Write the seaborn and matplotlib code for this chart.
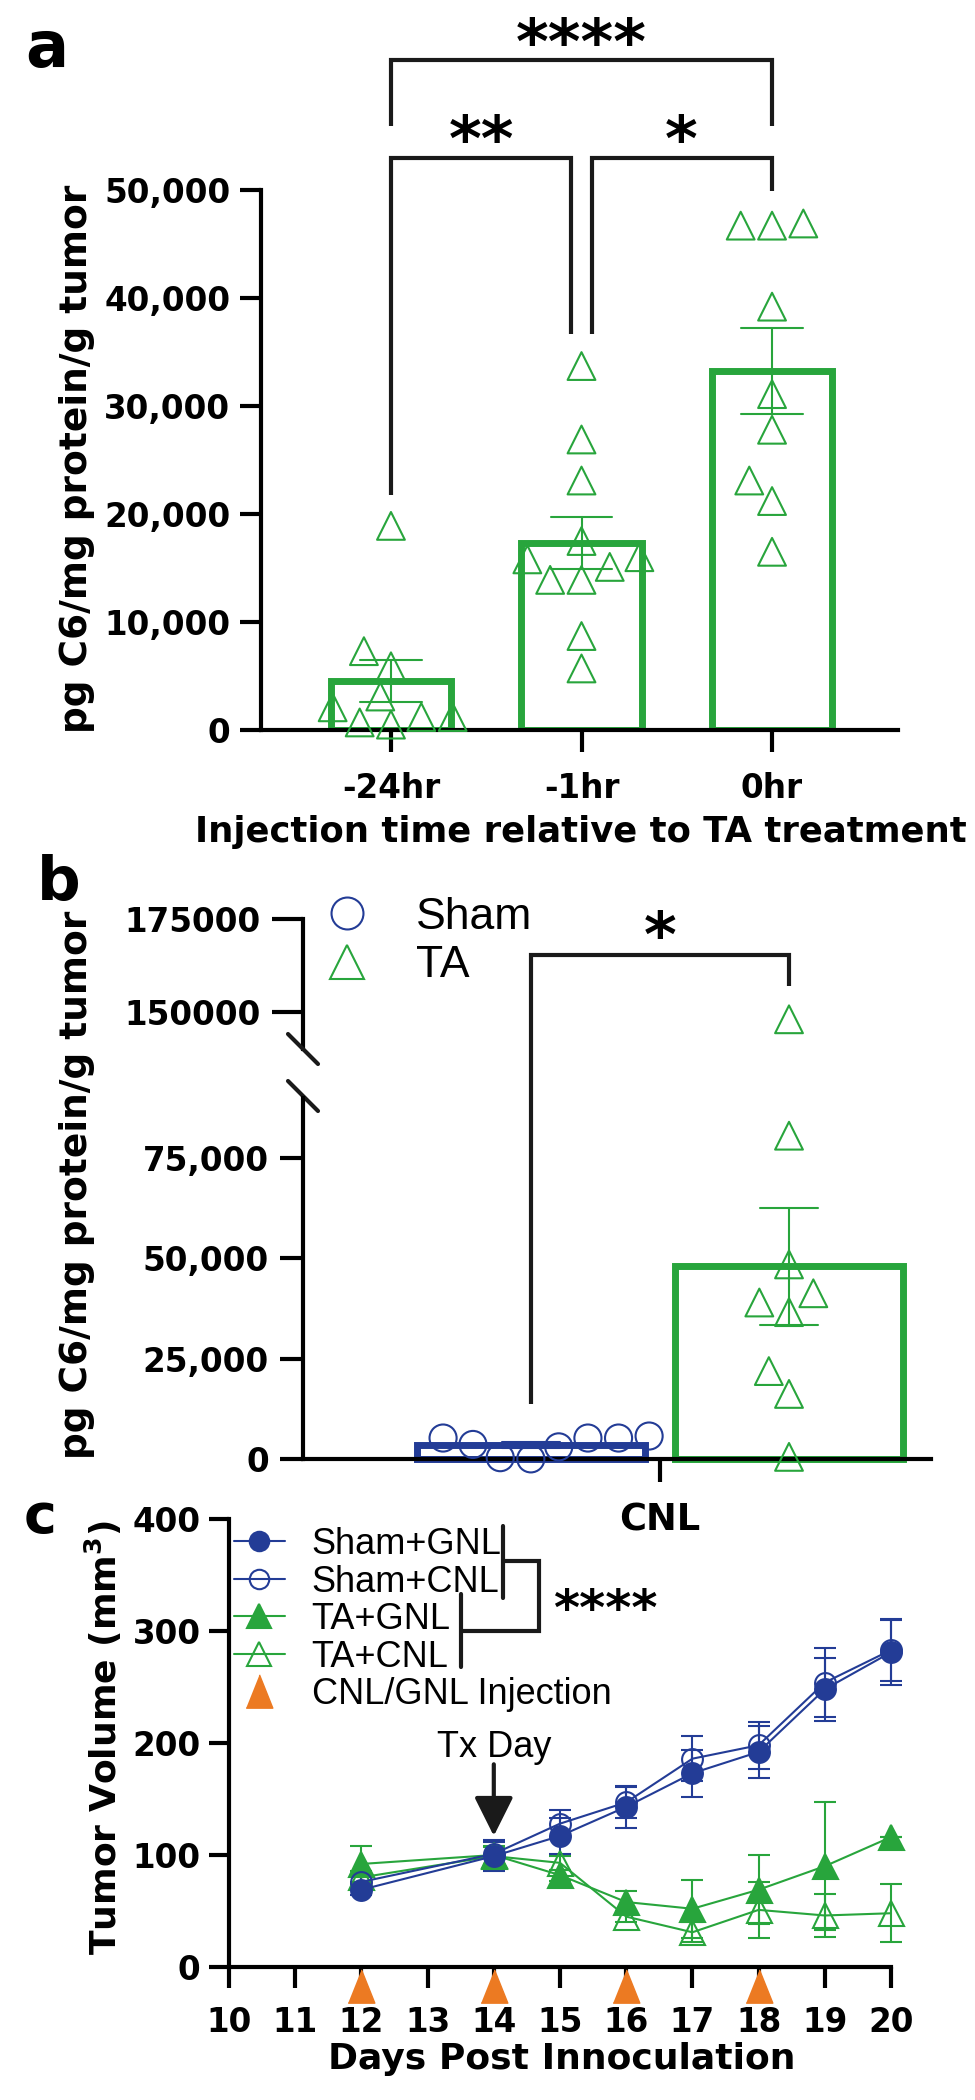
import numpy as np
import pandas as pd
import seaborn as sns
import matplotlib.pyplot as plt
from matplotlib.lines import Line2D

# ---- panel a: C6 per injection time ----
times = ['-24hr', '-1hr', '0hr']
c6_m24 = [18900, 7300, 5900, 3100, 2100, 1200, 1200, 700, 500]
c6_m1 = [33700, 26900, 23100, 17500, 16000, 15800, 15100, 13900, 13900, 8700, 5700]
c6_0 = [46700, 46700, 46900, 39200, 31100, 27800, 23100, 21200, 16500]

# ---- panel b: Sham vs TA, CNL ----
groups_b = ['Sham', 'TA']
c6_sham = [3000, 5700, 5200, 5200, 0, 5200, 300, 3600]
c6_ta = [148000, 80600, 48500, 41300, 39000, 36600, 21900, 16200, 500]

# ---- panel c: tumor volume ----
days = [12, 14, 15, 16, 17, 18, 19, 20]
sham_gnl = [69, 99, 117, 143, 173, 192, 248, 281]
sham_gnl_sem = [5, 13, 16, 19, 21, 23, 28, 29]
sham_cnl = [76, 101, 128, 147, 186, 198, 254, 283]
sham_cnl_sem = [6, 12, 12, 14, 20, 21, 31, 28]
ta_gnl = [92, 100, 82, 58, 52, 69, 90, 116]
ta_gnl_sem = [16, 8, 5, 10, 26, 31, 57, 0]
ta_cnl = [80, 99, 93, 45, 31, 51, 46, 48]
ta_cnl_sem = [6, 8, 6, 5, 9, 25, 19, 26]
injection_days = [12, 14, 16, 18]
tx_day = 14

GREEN = '#28A53C'
BLUE = '#233C96'
ORANGE = '#EC7A22'
TRI = [(-0.8, -1), (0.8, -1), (0, 1)]

sns.set_theme(style='ticks')
plt.rcParams['font.family'] = ['DejaVu Sans']
plt.rcParams['font.weight'] = 'bold'
plt.rcParams['axes.labelweight'] = 'bold'
plt.rcParams['axes.linewidth'] = 3
for key in ('text.color', 'axes.labelcolor', 'axes.edgecolor', 'xtick.color', 'ytick.color'):
    plt.rcParams[key] = 'black'
REG = {'family': 'Liberation Sans', 'weight': 'normal'}
TICK = 23.5

W, H = 975, 2100
def fx(px):
    return px / W
def fy(py):
    return 1 - py / H

fig = plt.figure(figsize=(W / 100, H / 100), dpi=100)
fig.patch.set_facecolor('white')


def hollow(ax, n0, color, lw=1.5):
    for coll in ax.collections[n0:]:
        coll.set_facecolor('none')
        coll.set_edgecolor(color)
        coll.set_linewidth(lw)


def bracket(ax, x0, x1, y, y0, y1):
    ax.plot([x0, x0, x1, x1], [y0, y, y, y1], color='k', lw=3, clip_on=False,
            solid_joinstyle='miter', solid_capstyle='butt')


# ================= panel a =================
df_a = pd.DataFrame({
    'time': np.repeat(times, [len(c6_m24), len(c6_m1), len(c6_0)]),
    'value': c6_m24 + c6_m1 + c6_0,
})
ax_a = fig.add_axes([fx(261), fy(730), 637 / W, 540 / H])
sns.barplot(data=df_a, x='time', y='value', order=times, color=GREEN, fill=False,
            width=0.63, linewidth=5, errorbar='se', capsize=0.325,
            err_kws={'color': GREEN, 'linewidth': 1.5}, ax=ax_a)
n0 = len(ax_a.collections)
sns.swarmplot(data=df_a, x='time', y='value', order=times, color=GREEN, marker='^',
              size=20, clip_on=False, zorder=4, ax=ax_a)
hollow(ax_a, n0, GREEN)

ax_a.set_xlim(-0.682, 2.661)
ax_a.set_ylim(0, 50000)
yt = [0, 10000, 20000, 30000, 40000, 50000]
ax_a.set_yticks(yt)
ax_a.set_yticklabels([f'{v:,}' for v in yt])
sns.despine(ax=ax_a)
ax_a.tick_params(axis='y', width=3, length=15, labelsize=TICK, pad=7)
ax_a.tick_params(axis='x', width=3, length=16, labelsize=TICK, pad=14)
ax_a.set_xlabel('Injection time relative to TA treatment', fontsize=25.5)
ax_a.xaxis.set_label_coords(0.502, -0.157)
ax_a.set_ylabel('')
fig.text(fx(77), fy(459), 'pg C6/mg protein/g tumor', rotation=90, ha='center',
         va='center', fontsize=27, fontweight='bold')

bracket(ax_a, 0, 2, 62040, 55880, 55880)
bracket(ax_a, 0, 0.943, 52960, 21760, 36670)
bracket(ax_a, 1.055, 2, 52960, 36670, 49900)
ax_a.text(1, 61800, '****', ha='center', va='baseline', fontsize=45, clip_on=False)
ax_a.text(0.473, 52800, '**', ha='center', va='baseline', fontsize=45, clip_on=False)
ax_a.text(1.525, 52800, '*', ha='center', va='baseline', fontsize=45, clip_on=False)
fig.text(fx(25), fy(67), 'a', fontsize=46, fontweight='bold', va='baseline')

# ================= panel b =================
df_b = pd.DataFrame({
    'treat': 'CNL',
    'group': ['Sham'] * len(c6_sham) + ['TA'] * len(c6_ta),
    'value': c6_sham + c6_ta,
})
pal_b = {'Sham': BLUE, 'TA': GREEN}
marks_b = {'Sham': 'o', 'TA': '^'}
sizes_b = {'Sham': 19.5, 'TA': 20}

ax_bu = fig.add_axes([fx(303), fy(1049), 628 / W, 130 / H])
ax_bl = fig.add_axes([fx(303), fy(1507), 628 / W, 409 / H])
for ax in (ax_bu, ax_bl):
    for g in groups_b:
        sub = df_b[df_b['group'] == g]
        sns.barplot(data=sub, x='treat', y='value', hue='group', hue_order=groups_b,
                    palette=pal_b, dodge=True, fill=False, width=0.8, gap=0.117,
                    linewidth=5, errorbar='se', capsize=0.18,
                    err_kws={'color': pal_b[g], 'linewidth': 1.5}, legend=False, ax=ax)
    for g in groups_b:
        sub = df_b[df_b['group'] == g]
        n0 = len(ax.collections)
        sns.swarmplot(data=sub, x='treat', y='value', hue='group', hue_order=groups_b,
                      palette=pal_b, dodge=True, marker=marks_b[g], size=sizes_b[g],
                      legend=False, zorder=4, ax=ax)
        hollow(ax, n0, pal_b[g])
    ax.set_xlim(-0.553, 0.42)
    ax.set_xlabel('')
    ax.set_ylabel('')
    ax.patch.set_alpha(0)

ax_bu.set_ylim(140000, 175000)
ax_bu.set_yticks([150000, 175000])
ax_bu.set_yticklabels(['150000', '175000'])
for s in ('top', 'right', 'bottom'):
    ax_bu.spines[s].set_visible(False)
ax_bu.tick_params(axis='x', bottom=False, labelbottom=False)
ax_bu.tick_params(axis='y', width=3, length=22, labelsize=TICK, pad=8.5)

ax_bl.set_ylim(-12000, 90000)
ax_bl.spines['top'].set_visible(False)
ax_bl.spines['right'].set_visible(False)
ax_bl.spines['bottom'].set_position(('data', 0))
ax_bl.spines['left'].set_bounds(0, 90000)
yt = [0, 25000, 50000, 75000]
ax_bl.set_yticks(yt)
ax_bl.set_yticklabels([f'{v:,}' for v in yt])
ax_bl.set_xticks([0])
ax_bl.set_xticklabels(['CNL'], fontsize=26.5, fontweight='bold')
ax_bl.tick_params(axis='y', width=3, length=16.5, labelsize=TICK, pad=8)
ax_bl.tick_params(axis='x', width=3, length=16.5, pad=14)
ax_bl.set_zorder(3)

# axis break marks
for yc in (1049, 1096):
    fig.add_artist(Line2D([fx(288), fx(318)], [fy(yc - 15), fy(yc + 15)], color='k', lw=3))

bracket(ax_bl, -0.2, 0.2, 125750, 13700, 118000)
ax_bl.text(0, 125300, '*', ha='center', va='baseline', fontsize=45, clip_on=False)

handles_b = [Line2D([], [], ls='none', marker='o', ms=23, mfc='none', mec=BLUE, mew=1.5),
             Line2D([], [], ls='none', marker='^', ms=24, mfc='none', mec=GREEN, mew=1.5)]
ax_bu.legend(handles_b, groups_b, loc='upper left', bbox_to_anchor=(fx(325), fy(897)),
             bbox_transform=fig.transFigure, frameon=False, borderpad=0, borderaxespad=0,
             handlelength=1.0, handletextpad=1.05, labelspacing=0.16,
             prop={**REG, 'size': 32})
fig.text(fx(77), fy(1185), 'pg C6/mg protein/g tumor', rotation=90, ha='center',
         va='center', fontsize=27, fontweight='bold')
fig.text(fx(37), fy(900), 'b', fontsize=44, fontweight='bold', va='baseline')

# ================= panel c =================
ax_c = fig.add_axes([fx(229), fy(1967), 662 / W, 448 / H])
ax_c.patch.set_alpha(0)
series = [
    ('TA+CNL', ta_cnl, ta_cnl_sem, GREEN, '^', False),
    ('TA+GNL', ta_gnl, ta_gnl_sem, GREEN, '^', True),
    ('Sham+CNL', sham_cnl, sham_cnl_sem, BLUE, 'o', False),
    ('Sham+GNL', sham_gnl, sham_gnl_sem, BLUE, 'o', True),
]
handles_c = {}
for name, m, s, col, mk, filled in series:
    ms = 15 if mk == 'o' else 18
    ax_c.errorbar(days, m, yerr=s, color=col, marker=mk, ms=ms,
                  mfc=col if filled else 'none', mec=col, mew=1.5, lw=1.5,
                  elinewidth=1.5, capsize=8, capthick=1.5, clip_on=False, zorder=3)
    handles_c[name] = Line2D([], [], color=col, marker=mk, ms=ms - 1,
                             mfc=col if filled else 'none', mec=col, mew=1.5, lw=1.5)

ax_c.plot(injection_days, [-0.042] * len(injection_days), ls='none', marker=TRI, ms=24,
          color=ORANGE, clip_on=False, zorder=5, transform=ax_c.get_xaxis_transform())

ax_c.set_xlim(10, 20)
ax_c.set_ylim(0, 400)
ax_c.set_xticks(range(10, 21))
ax_c.set_yticks([0, 100, 200, 300, 400])
sns.despine(ax=ax_c)
ax_c.tick_params(axis='y', width=3, length=14.5, labelsize=TICK, pad=6)
ax_c.tick_params(axis='x', width=3, length=15, labelsize=TICK, pad=13)
ax_c.set_xlabel('Days Post Innoculation', fontsize=26)
ax_c.xaxis.set_label_coords(0.503, -0.168)
fig.text(fx(103), fy(1738), 'Tumor Volume (mm$^\\mathbf{3}$)', rotation=90, ha='center',
         va='center', fontsize=26, fontweight='bold')

ax_c.annotate('', xy=(tx_day, 117), xytext=(tx_day, 181),
              arrowprops=dict(arrowstyle='-|>,head_length=0.8,head_width=0.4',
                              color='k', lw=3, mutation_scale=30, shrinkA=0, shrinkB=0))
ax_c.text(tx_day, 196, 'Tx Day', ha='center', va='center', fontsize=26, **REG)

order_c = ['Sham+GNL', 'Sham+CNL', 'TA+GNL', 'TA+CNL']
leg_h = [handles_c[k] for k in order_c]
leg_h.append(Line2D([], [], ls='none', marker=TRI, ms=24, color=ORANGE))
ax_c.legend(leg_h, order_c + ['CNL/GNL Injection'], loc='upper left',
            bbox_to_anchor=(fx(234), fy(1527)), bbox_transform=fig.transFigure,
            frameon=False, borderpad=0, borderaxespad=0, handlelength=1.4,
            handletextpad=0.75, labelspacing=0.07, prop={**REG, 'size': 26})

# significance bracket beside the legend
for xs, ys in [([503, 503], [1526, 1598]), ([461, 461], [1594, 1667]),
               ([503, 539, 539, 461], [1561, 1561, 1631, 1631])]:
    fig.add_artist(Line2D([fx(v) for v in xs], [fy(v) for v in ys], color='k', lw=3,
                          solid_joinstyle='miter'))
fig.text(fx(605), fy(1625), '****', ha='center', va='baseline', fontsize=36,
         fontweight='bold')
fig.text(fx(24), fy(1533), 'c', fontsize=40, fontweight='bold', va='baseline')

fig.savefig('out.png', dpi=100)
